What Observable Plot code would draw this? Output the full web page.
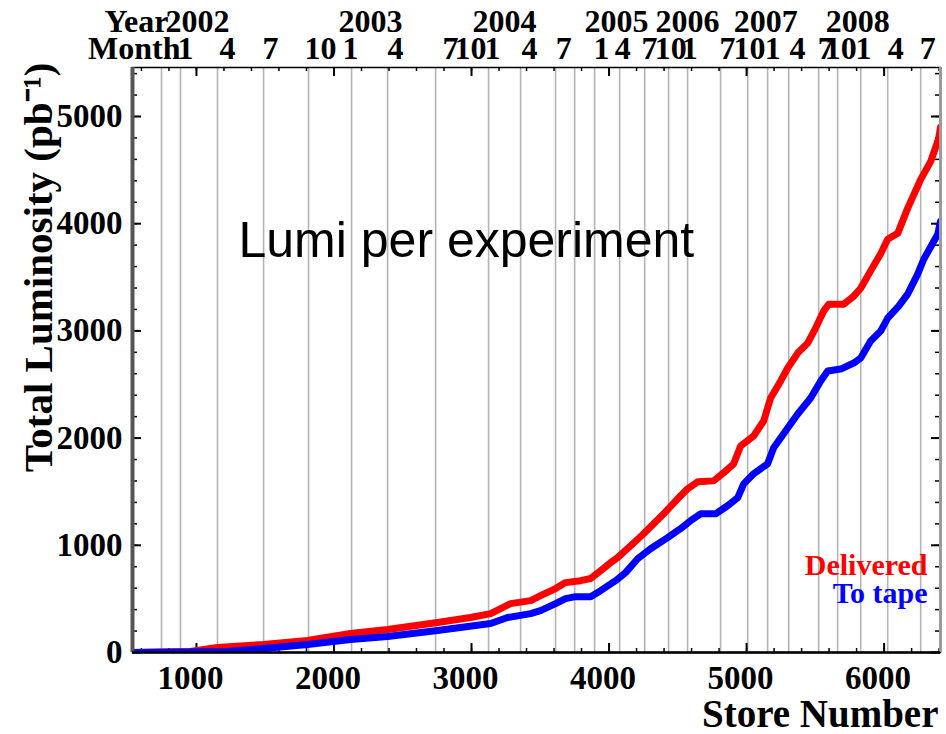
<!DOCTYPE html>
<html><head><meta charset="utf-8">
<script src="https://cdn.jsdelivr.net/npm/d3@7"></script>
<script src="https://cdn.jsdelivr.net/npm/@observablehq/plot@0.6"></script>
<style>html,body{margin:0;padding:0;background:#fff} #chart svg{display:block}</style>
</head><body><div id="chart"></div>
<script>
// ---- data ----
const title = "Lumi per experiment";
const xTitle = "Store Number";
const yTitle = "Total Luminosity (pb\u207B\u00B9)";
const seriesNames = ["Delivered", "To tape"];

const deliveredStore = [535, 957, 1153, 1488, 1808, 2120, 2390, 2753, 2993, 3139, 3284, 3430, 3502, 3611, 3684, 3793, 3866, 3939, 4011, 4062, 4157, 4251, 4397, 4499, 4571, 4644, 4760, 4833, 4906, 4957, 5051, 5124, 5175, 5248, 5299, 5372, 5444, 5502, 5560, 5597, 5706, 5779, 5830, 5902, 5975, 6026, 6099, 6171, 6266, 6339, 6397, 6410];
const deliveredLumi  = [0, 10, 47, 75, 112, 177, 214, 280, 326, 363, 456, 484, 530, 596, 652, 670, 690, 763, 838, 885, 996, 1108, 1294, 1434, 1527, 1592, 1601, 1676, 1760, 1927, 2020, 2160, 2374, 2533, 2654, 2793, 2886, 3026, 3184, 3249, 3249, 3324, 3398, 3560, 3720, 3855, 3910, 4143, 4413, 4581, 4795, 4900];

const tapeStore = [535, 1226, 1488, 1808, 2120, 2390, 2753, 3139, 3262, 3430, 3502, 3611, 3684, 3757, 3866, 3939, 4048, 4120, 4208, 4302, 4426, 4520, 4593, 4666, 4775, 4862, 4935, 4979, 5051, 5153, 5197, 5299, 5372, 5466, 5539, 5590, 5684, 5779, 5830, 5902, 5975, 6026, 6106, 6171, 6244, 6288, 6390, 6410];
const tapeLumi  = [0, 10, 37, 75, 121, 149, 205, 270, 326, 363, 391, 456, 503, 521, 521, 577, 670, 745, 875, 968, 1071, 1155, 1229, 1294, 1294, 1369, 1443, 1573, 1667, 1760, 1909, 2095, 2225, 2374, 2533, 2626, 2644, 2700, 2747, 2905, 2998, 3119, 3231, 3343, 3529, 3668, 3901, 4022];

const gridStores = [746, 884, 1153, 1488, 1815, 2128, 2390, 2739, 3124, 3357, 3611, 3750, 3895, 4077, 4259, 4433, 4571, 4811, 5008, 5153, 5306, 5524, 5662, 5830, 6026, 6266];

const monthStores = [920, 1226, 1539, 1902, 2120, 2448, 2848, 2993, 3153, 3422, 3670, 3946, 4099, 4295, 4448, 4586, 4862, 5022, 5190, 5371, 5575, 5684, 5851, 6084, 6317];
const monthLabels = ["1","4","7","10","1","4","7","10","1","4","7","1","4","7","10","1","7","10","1","4","7","10","1","4","7"];
const yearStores = [1008, 2266, 3240, 4055, 4571, 5139, 5808];
const yearLabels = ["2002","2003","2004","2005","2006","2007","2008"];

const xTickValues = [1000, 2000, 3000, 4000, 5000, 6000];
const yTickValues = [0, 1000, 2000, 3000, 4000, 5000];
const xMinorTicks = d3.range(600, 6401, 200);
const yMinorTicks = d3.range(200, 5401, 200);

const xDomain = [535, 6410];
const yDomain = [0, 5457];

// ---- layout ----
const W = 946, H = 734, mL = 132, mR = 6, mT = 67, mB = 82;
const innerW = W - mL - mR, innerH = H - mT - mB;
const serif = "'Liberation Serif', 'Times New Roman', Times, serif";
const sans = "'Liberation Sans', Arial, Helvetica, sans-serif";

const delivered = deliveredStore.map((s, i) => ({store: s, lumi: deliveredLumi[i]}));
const tape = tapeStore.map((s, i) => ({store: s, lumi: tapeLumi[i]}));
const months = monthStores.map((s, i) => ({store: s, label: monthLabels[i]}));
const years = yearStores.map((s, i) => ({store: s, label: yearLabels[i]}));

const bold = {fontFamily: serif, fontWeight: "bold", fill: "#000", lineAnchor: "middle"};

const chart = Plot.plot({
  width: W, height: H,
  marginLeft: mL, marginRight: mR, marginTop: mT, marginBottom: mB,
  x: {domain: xDomain, axis: null},
  y: {domain: yDomain, axis: null},
  style: {fontFamily: serif, background: "#fff", overflow: "visible"},
  marks: [
    Plot.ruleX(gridStores, {stroke: "#b4b4b4", strokeWidth: 1.6}),
    // inward ticks
    Plot.ruleX(xMinorTicks, {insetTop: innerH - 4, stroke: "#000", strokeWidth: 1.5}),
    Plot.ruleX(xTickValues, {insetTop: innerH - 9, stroke: "#000", strokeWidth: 2}),
    Plot.ruleX(xMinorTicks, {insetBottom: innerH - 4, stroke: "#000", strokeWidth: 1.5}),
    Plot.ruleX(xTickValues, {insetBottom: innerH - 9, stroke: "#000", strokeWidth: 2}),
    Plot.ruleY(yMinorTicks, {insetRight: innerW - 5, stroke: "#000", strokeWidth: 1.5}),
    Plot.ruleY(yTickValues, {insetRight: innerW - 9, stroke: "#000", strokeWidth: 2}),
    Plot.ruleY(yMinorTicks, {insetLeft: innerW - 5, stroke: "#000", strokeWidth: 1.5}),
    Plot.ruleY(yTickValues, {insetLeft: innerW - 9, stroke: "#000", strokeWidth: 2}),
    // curves
    Plot.line(delivered, {x: "store", y: "lumi", stroke: "#ff0000", strokeWidth: 7, strokeLinejoin: "round", clip: true}),
    Plot.line(tape, {x: "store", y: "lumi", stroke: "#0000ff", strokeWidth: 7, strokeLinejoin: "round", clip: true}),
    // frame
    Plot.frame({stroke: "#000", strokeWidth: 1.5}),
    Plot.ruleX([xDomain[1]], {stroke: "#9a9a9a", strokeWidth: 3}),
    Plot.ruleX([xDomain[0]], {stroke: "#555", strokeWidth: 4}),
    Plot.ruleY([0], {stroke: "#000", strokeWidth: 2.5}),
    // tick labels
    Plot.text(xTickValues, {x: d => d, text: d => String(d), frameAnchor: "bottom", dy: 26, dx: -6, fontSize: 33, ...bold, ariaLabel: "xticklabels"}),
    Plot.text(yTickValues, {y: d => d, text: d => String(d), frameAnchor: "left", dx: -10, textAnchor: "end", fontSize: 33, ...bold, ariaLabel: "yticklabels"}),
    // top date axis
    Plot.text(years, {x: "store", text: "label", frameAnchor: "top", dy: -46, fontSize: 32, ...bold}),
    Plot.text(months, {x: "store", text: "label", frameAnchor: "top", dy: -18.5, fontSize: 32, ...bold}),
    Plot.text(["Year"], {frameAnchor: "top-left", textAnchor: "end", dx: 36, dy: -46, fontSize: 32, ...bold}),
    Plot.text(["Month"], {frameAnchor: "top-left", textAnchor: "end", dx: 48, dy: -18.5, fontSize: 32, ...bold}),
    // axis titles
    Plot.text([xTitle], {frameAnchor: "bottom-right", textAnchor: "end", dx: -2, dy: 62, fontSize: 39, ...bold}),
    Plot.text([yTitle], {frameAnchor: "top-left", textAnchor: "end", rotate: -90, dx: -94, dy: -5, fontSize: 41, ...bold}),
    // annotation title
    Plot.text([title], {frameAnchor: "top-left", textAnchor: "start", lineAnchor: "middle", dx: 106, dy: 173, fontSize: 50, fontFamily: sans, fontWeight: "normal", fill: "#000"}),
    // legend
    Plot.text([seriesNames[0]], {frameAnchor: "bottom-right", textAnchor: "end", lineAnchor: "middle", dx: -13, dy: -87, fontSize: 30, fontFamily: serif, fontWeight: "bold", fill: "#ff0000"}),
    Plot.text([seriesNames[1]], {frameAnchor: "bottom-right", textAnchor: "end", lineAnchor: "middle", dx: -13, dy: -59, fontSize: 30, fontFamily: serif, fontWeight: "bold", fill: "#0000ff"})
  ]
});

document.getElementById("chart").appendChild(chart);

// condense numeric tick labels horizontally, like the reference
for (const sel of ['g[aria-label="xticklabels"] text', 'g[aria-label="yticklabels"] text']) {
  chart.querySelectorAll(sel).forEach(t => {
    const tr = t.getAttribute("transform");
    if (tr) {
      t.setAttribute("transform", tr + " scale(0.78,1)");
    } else {
      const x = +(t.getAttribute("x") || 0), y = +(t.getAttribute("y") || 0);
      t.removeAttribute("x"); t.removeAttribute("y");
      t.setAttribute("transform", `translate(${x},${y}) scale(0.78,1)`);
    }
  });
}
</script>
</body></html>
